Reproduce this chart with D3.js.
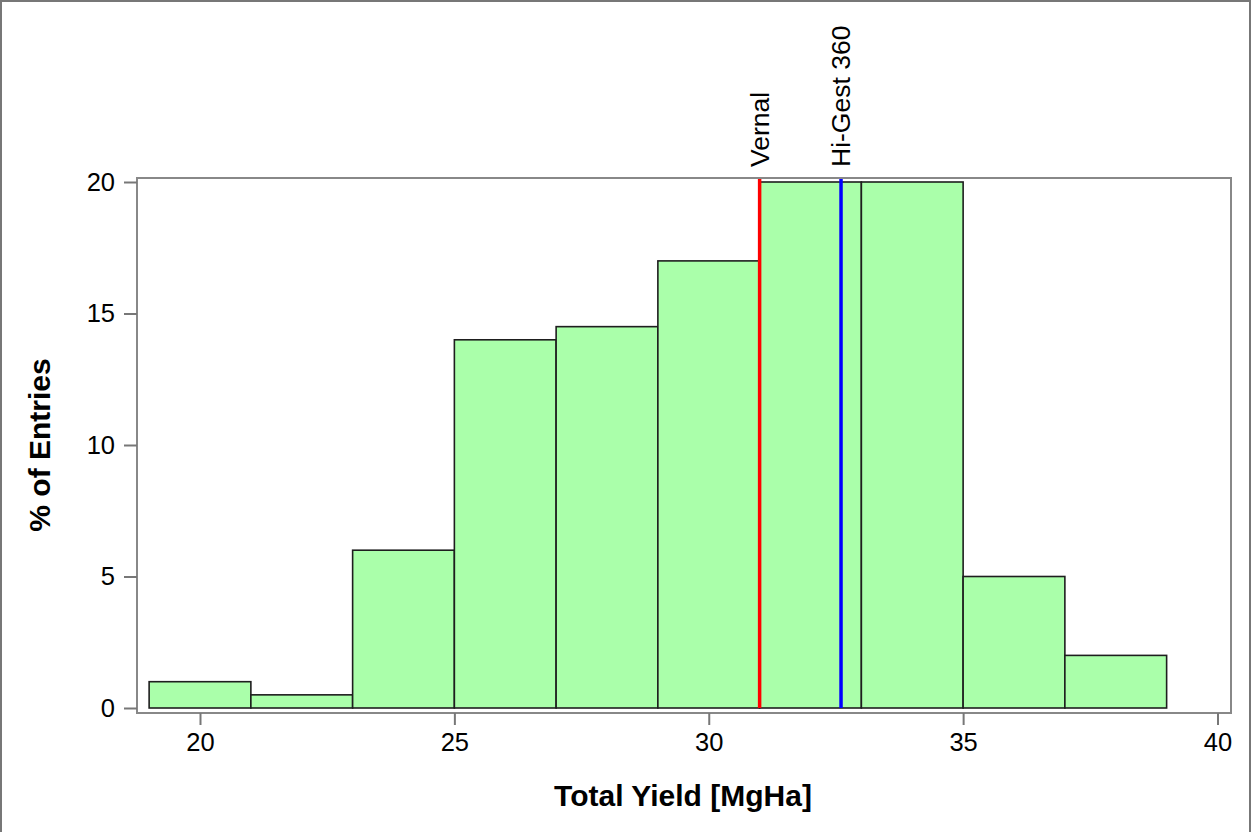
<!DOCTYPE html>
<html lang="en">
  <head>
    <meta charset="utf-8" />
    <title>Total Yield histogram</title>
    <script src="https://cdn.jsdelivr.net/npm/d3@7"></script>
    <style>
      body { margin: 0; background: #fff; }
      text { font-family: Arial, "Liberation Sans", sans-serif; fill: #000; }
    </style>
  </head>
  <body>
    <script>
      // histogram bins (lower edges, width 2) and % of entries
      var binStart = [19, 21, 23, 25, 27, 29, 31, 33, 35, 37];
      var binWidth = 2;
      var percent = [1, 0.5, 6, 14, 14.5, 17, 20, 20, 5, 2];

      // reference varieties
      var refNames = ["Vernal", "Hi-Gest 360"];
      var refValues = [31.0, 32.6];
      var refColors = ["#ff0000", "#0000ff"];

      var xTicks = [20, 25, 30, 35, 40];
      var yTicks = [0, 5, 10, 15, 20];

      var w = 1251, h = 832;
      var frame = { left: 137, right: 1231, top: 178, bottom: 713 };

      var x = d3.scaleLinear().domain([20, 40]).range([200, 1217.5]);
      var y = d3.scaleLinear().domain([0, 20]).range([708, 182]);

      var svg = d3.select("body").append("svg")
        .attr("width", w)
        .attr("height", h);

      // outer border
      svg.append("rect")
        .attr("x", 1).attr("y", 1)
        .attr("width", w - 2).attr("height", h)
        .attr("fill", "none")
        .attr("stroke", "#777")
        .attr("stroke-width", 2);

      // bars
      svg.selectAll("rect.bar")
        .data(percent)
        .enter()
        .append("rect")
        .attr("class", "bar")
        .attr("x", function (d, i) { return x(binStart[i]); })
        .attr("y", function (d) { return y(d); })
        .attr("width", function (d, i) { return x(binStart[i] + binWidth) - x(binStart[i]); })
        .attr("height", function (d) { return y(0) - y(d); })
        .attr("fill", "#aaffaa")
        .attr("stroke", "#1e1e1e")
        .attr("stroke-width", 1.6);

      // reference lines
      svg.selectAll("line.ref")
        .data(refValues)
        .enter()
        .append("line")
        .attr("class", "ref")
        .attr("x1", function (d) { return x(d); })
        .attr("x2", function (d) { return x(d); })
        .attr("y1", frame.top)
        .attr("y2", y(0))
        .attr("stroke", function (d, i) { return refColors[i]; })
        .attr("stroke-width", 3.5);

      svg.selectAll("text.ref")
        .data(refValues)
        .enter()
        .append("text")
        .attr("class", "ref")
        .attr("transform", function (d) {
          return "translate(" + (x(d) + 9) + "," + (frame.top - 11) + ") rotate(-90)";
        })
        .attr("font-size", "26.5px")
        .text(function (d, i) { return refNames[i]; });

      // plot frame
      svg.append("rect")
        .attr("x", frame.left)
        .attr("y", frame.top)
        .attr("width", frame.right - frame.left)
        .attr("height", frame.bottom - frame.top)
        .attr("fill", "none")
        .attr("stroke", "#888")
        .attr("stroke-width", 2);

      // x axis
      var xAxis = svg.append("g")
        .attr("transform", "translate(0," + frame.bottom + ")")
        .call(d3.axisBottom(x).tickValues(xTicks).tickSize(12).tickPadding(8));
      xAxis.select(".domain").remove();
      xAxis.selectAll("line").attr("stroke", "#777").attr("stroke-width", 2);
      xAxis.selectAll("text").attr("font-size", "25.5px").attr("fill", "#000")
        .style("font-family", "Arial, 'Liberation Sans', sans-serif");

      // y axis
      var yAxis = svg.append("g")
        .attr("transform", "translate(" + frame.left + ",0)")
        .call(d3.axisLeft(y).tickValues(yTicks).tickSize(13).tickPadding(9));
      yAxis.select(".domain").remove();
      yAxis.selectAll("line").attr("stroke", "#777").attr("stroke-width", 2);
      yAxis.selectAll("text").attr("font-size", "25.5px").attr("fill", "#000")
        .style("font-family", "Arial, 'Liberation Sans', sans-serif");

      // axis titles
      svg.append("text")
        .attr("x", 683)
        .attr("y", 806)
        .attr("text-anchor", "middle")
        .attr("font-size", "30px")
        .attr("font-weight", "bold")
        .text("Total Yield [MgHa]");

      svg.append("text")
        .attr("transform", "translate(50,445) rotate(-90)")
        .attr("text-anchor", "middle")
        .attr("font-size", "30px")
        .attr("font-weight", "bold")
        .text("% of Entries");
    </script>
  </body>
</html>
